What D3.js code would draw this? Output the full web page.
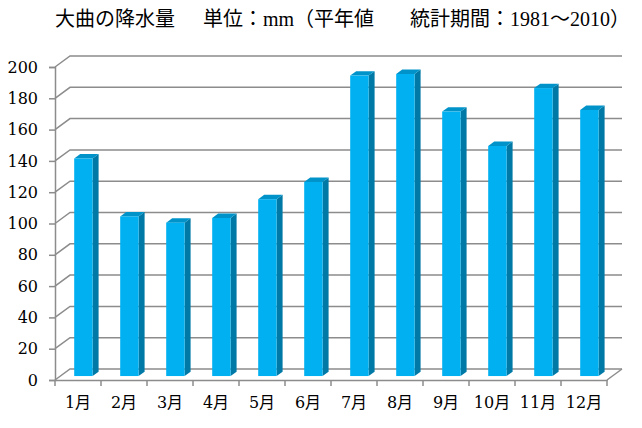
<!DOCTYPE html>
<html>
<head>
<meta charset="utf-8">
<script src="https://cdn.jsdelivr.net/npm/d3@7"></script>
<style>
  body { margin: 0; background: #fff; }
  text { font-family: "DejaVu Serif", "Noto Sans CJK JP", serif; }
  .title { font-family: "Liberation Serif", "Noto Sans CJK JP", serif; }
</style>
</head>
<body>
<div id="chart"></div>
<script>
// data
var months = ["1月", "2月", "3月", "4月", "5月", "6月", "7月", "8月", "9月", "10月", "11月", "12月"];
var rain = [139, 102, 98, 101, 113, 124, 192, 193, 169, 147, 184, 170];
var yTicks = [0, 20, 40, 60, 80, 100, 120, 140, 160, 180, 200];
var titleParts = ["大曲の降水量", "単位：mm（平年値", "統計期間：1981～2010）"];

var width = 642, height = 428;
var depth = { x: 15, y: -11 };   // 3D back wall offset

var svg = d3.select("#chart")
    .append("svg")
    .attr("width", width)
    .attr("height", height);

var x = d3.scaleBand()
    .domain(months)
    .range([55, 607]);

var y = d3.scaleLinear()
    .domain([0, 200])
    .range([380, 67]);

// point in the 3D box: t = 0 front plane, 1 back wall
function px(xv, t) { return xv + t * depth.x; }
function py(v, t) { return y(v) + t * depth.y; }

var grey = "#8c8c8c";

// back wall gridlines + diagonal to front axis
var grid = svg.append("g");
grid.selectAll("path")
    .data(yTicks)
    .enter()
    .append("path")
    .attr("d", d => "M" + px(55, 0) + "," + py(d, 0) +
        "L" + px(55, 1) + "," + py(d, 1) +
        "L" + px(607, 1) + "," + py(d, 1))
    .attr("fill", "none")
    .attr("stroke", grey)
    .attr("stroke-width", 1.5);

// floor right edge
svg.append("path")
    .attr("d", "M" + px(607, 0) + "," + py(0, 0) + "L" + px(607, 1) + "," + py(0, 1))
    .attr("stroke", grey)
    .attr("stroke-width", 1.5);

// bars
var f1 = 0.36, f2 = 0.76;
var barW = x.bandwidth() * 0.4;
var bars = svg.append("g")
    .selectAll("g")
    .data(rain)
    .enter()
    .append("g");

function x0(d, i) { return x(months[i]) + (x.bandwidth() - barW) / 2; }

// side face
bars.append("path")
    .attr("d", (d, i) => {
        var a = x0(d, i) + barW;
        return "M" + px(a, f1) + "," + py(0, f1) +
            "L" + px(a, f2) + "," + py(0, f2) +
            "L" + px(a, f2) + "," + py(d, f2) +
            "L" + px(a, f1) + "," + py(d, f1) + "Z";
    })
    .attr("fill", "#0079a6");

// top face
bars.append("path")
    .attr("d", (d, i) => {
        var a = x0(d, i), b = a + barW;
        return "M" + px(a, f1) + "," + py(d, f1) +
            "L" + px(b, f1) + "," + py(d, f1) +
            "L" + px(b, f2) + "," + py(d, f2) +
            "L" + px(a, f2) + "," + py(d, f2) + "Z";
    })
    .attr("fill", "#0093c9");

// front face
bars.append("rect")
    .attr("x", (d, i) => px(x0(d, i), f1))
    .attr("y", d => py(d, f1))
    .attr("width", barW)
    .attr("height", d => py(0, f1) - py(d, f1))
    .attr("fill", "#00b0f0");

// axes
var yAxis = svg.append("g")
    .attr("transform", "translate(55,0)")
    .call(d3.axisLeft(y).tickValues(yTicks).tickSize(6).tickPadding(11));

var xAxis = svg.append("g")
    .attr("transform", "translate(0,380)")
    .call(d3.axisBottom(x).tickSize(0).tickPadding(17));

// category boundary ticks
xAxis.selectAll(".sep")
    .data(d3.range(months.length + 1))
    .enter()
    .append("line")
    .attr("class", "sep")
    .attr("x1", i => 55 + i * x.step())
    .attr("x2", i => 55 + i * x.step())
    .attr("y1", 0)
    .attr("y2", 6);

svg.selectAll(".domain, .tick line, .sep")
    .attr("stroke", grey)
    .attr("stroke-width", 1.5);

svg.selectAll(".tick text")
    .attr("fill", "#000")
    .style("font-size", "16px");

// title
svg.append("g")
    .selectAll("text")
    .data(titleParts)
    .enter()
    .append("text")
    .attr("class", "title")
    .attr("x", (d, i) => [55, 203, 410][i])
    .attr("y", 26)
    .style("font-size", "20px")
    .text(d => d);
</script>
</body>
</html>
